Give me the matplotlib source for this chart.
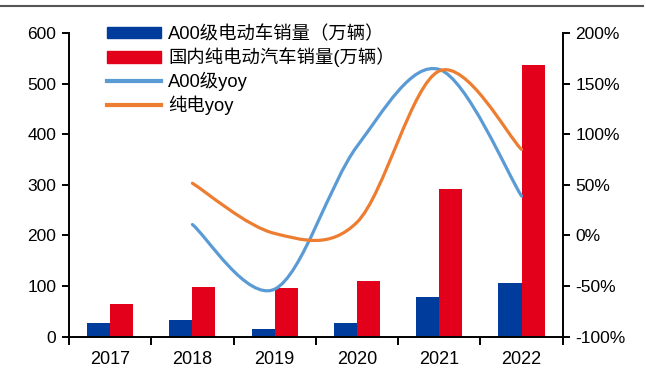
import numpy as np
import matplotlib
matplotlib.use('Agg')
import matplotlib.pyplot as plt
from matplotlib.path import Path
from matplotlib.patches import PathPatch, Patch
from matplotlib.lines import Line2D

plt.rcParams['font.family'] = ['Liberation Sans', 'Noto Sans CJK SC']

years = ['2017', '2018', '2019', '2020', '2021', '2022']
a00_sales = [28, 33, 15, 28, 78, 107]          # 万辆
bev_sales = [65, 98, 97, 111, 291, 536]        # 万辆
a00_yoy = [10.8, -53, 88, 164, 39]              # %, from 2018
bev_yoy = [51.6, 2, 13, 162.5, 85]              # %, from 2018

C_BLUE = '#003C9B'
C_RED = '#E2001A'
C_LBLUE = '#5B9BD5'
C_ORANGE = '#ED7D31'


def smooth_path(xs, ys, t=1 / 6.0):
    # cubic bezier through the points, same style as office "smoothed line"
    pts = np.column_stack([xs, ys]).astype(float)
    n = len(pts)
    verts = [pts[0]]
    codes = [Path.MOVETO]
    for i in range(n - 1):
        p0 = pts[i - 1] if i > 0 else pts[i]
        p1 = pts[i]
        p2 = pts[i + 1]
        p3 = pts[i + 2] if i + 2 < n else pts[i + 1]
        c1 = p1 + (p2 - p0) * t
        c2 = p2 - (p3 - p1) * t
        verts += [c1, c2, p2]
        codes += [Path.CURVE4] * 3
    return Path(verts, codes)


fig = plt.figure(figsize=(6.46, 3.76), dpi=100)
ax = fig.add_axes([0.1068, 0.1045, 0.871 - 0.1068, 0.9122 - 0.1045])
ax2 = ax.twinx()

x = np.arange(len(years))
w = 0.28
ax.bar(x - w / 2, a00_sales, width=w, color=C_BLUE, zorder=2)
ax.bar(x + w / 2, bev_sales, width=w, color=C_RED, zorder=2)

ax.set_xlim(-0.5, len(years) - 0.5)
ax.set_ylim(0, 600)
ax.set_yticks(range(0, 601, 100))
ax.set_xticks(x)
ax.set_xticklabels(years)
ax.set_xticks(np.arange(-0.5, len(years), 1.0), minor=True)
ax.tick_params(axis='x', which='major', length=0, pad=10, labelsize=13)
ax.tick_params(axis='x', which='minor', length=6, width=1.4, direction='out')
ax.tick_params(axis='y', length=5, width=1.4, labelsize=12.5, pad=4)

yoy_x = x[1:]
ax2.add_patch(PathPatch(smooth_path(yoy_x, a00_yoy), fill=False,
                        edgecolor=C_LBLUE, lw=2.3, capstyle='round', zorder=3))
ax2.add_patch(PathPatch(smooth_path(yoy_x, bev_yoy), fill=False,
                        edgecolor=C_ORANGE, lw=2.3, capstyle='round', zorder=3))
ax2.set_ylim(-100, 200)
ax2.set_yticks(range(-100, 201, 50))
ax2.set_yticklabels([f'{v}%' for v in range(-100, 201, 50)])
ax2.tick_params(axis='y', length=5, width=1.4, labelsize=12.5, pad=4)

for a in (ax, ax2):
    a.spines['top'].set_visible(False)
    for s in ('left', 'right', 'bottom'):
        a.spines[s].set_linewidth(1.4)
ax.spines['right'].set_visible(False)
ax2.spines['left'].set_visible(False)
ax2.spines['bottom'].set_visible(False)

handles = [
    Patch(color=C_BLUE),
    Patch(color=C_RED),
    Line2D([], [], color=C_LBLUE, lw=3),
    Line2D([], [], color=C_ORANGE, lw=3),
]
labels = ['A00级电动车销量（万辆）', '国内纯电动汽车销量(万辆）', 'A00级yoy', '纯电yoy']
ax2.legend(handles, labels, loc='upper left', bbox_to_anchor=(0.078, 1.025),
           frameon=False, fontsize=13.2, handlelength=2.9, handleheight=0.62,
           handletextpad=0.4, labelspacing=0.24, borderpad=0, borderaxespad=0)

# thin rule across the top
fig.add_artist(Line2D([0, 0.995], [1 - 5.7 / 376] * 2, color='#555555', lw=1.5,
                      transform=fig.transFigure))

fig.savefig('out.png', dpi=100, facecolor='white')
